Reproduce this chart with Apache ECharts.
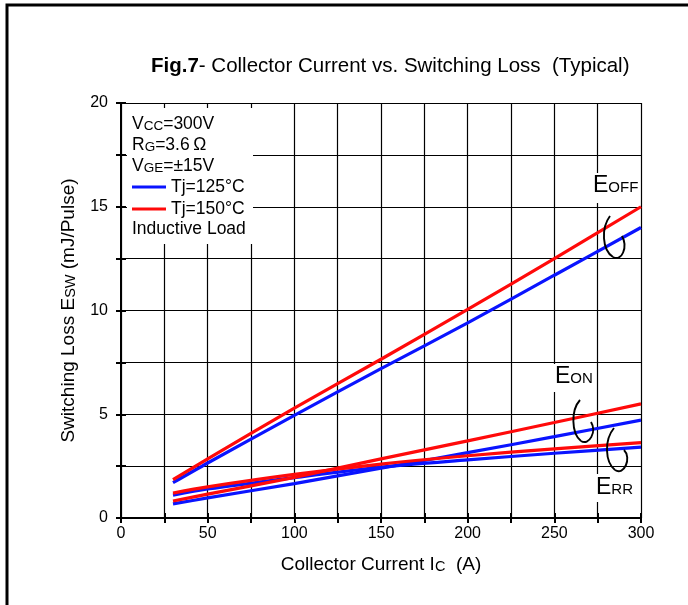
<!DOCTYPE html>
<html>
<head>
<meta charset="utf-8">
<script src="https://cdn.jsdelivr.net/npm/echarts@6/dist/echarts.min.js"></script>
<style>
html,body{margin:0;padding:0;background:#fff;}
#chart{width:688px;height:605px;}
</style>
</head>
<body>
<div id="chart"></div>
<script>
// Collector current (A)
var currents = [30, 50, 100, 150, 200, 250, 300];
// Switching losses (mJ/Pulse)
var eoff125 = [1.7, 2.65, 4.95, 7.2, 9.4, 11.7, 14.0];
var eoff150 = [1.85, 2.85, 5.3, 7.65, 10.05, 12.5, 15.0];
var eon125  = [0.68, 0.97, 1.66, 2.4, 3.15, 3.92, 4.72];
var eon150  = [0.82, 1.15, 1.96, 2.85, 3.72, 4.6, 5.5];
var err125  = [1.1, 1.4, 1.95, 2.45, 2.8, 3.12, 3.42];
var err150  = [1.2, 1.5, 2.1, 2.6, 3.0, 3.33, 3.63];
// Axis ticks
var xTicks = [0, 50, 100, 150, 200, 250, 300];
var yTicks = [0, 5, 10, 15, 20];
var legendNames = ['Tj=125°C', 'Tj=150°C'];

var FONT = '"Liberation Sans", Arial, sans-serif';
var BLUE = '#0a14ff';
var RED = '#ff0a0a';

function pairs(xs, ys) { return xs.map(function (x, i) { return [x, ys[i]]; }); }
function mk(name, color, ys) {
  return {
    type: 'line', name: name, data: pairs(currents, ys),
    showSymbol: false, symbol: 'none', smooth: 0.3,
    lineStyle: { color: color, width: 3.2 }, itemStyle: { color: color },
    z: color === RED ? 3 : 2
  };
}
function curve(x1, y1, c1x, c1y, c2x, c2y, x2, y2) {
  return { type: 'bezierCurve', z: 6,
    shape: { x1: x1, y1: y1, cpx1: c1x, cpy1: c1y, cpx2: c2x, cpy2: c2y, x2: x2, y2: y2 },
    style: { stroke: '#000', lineWidth: 1.9, fill: null } };
}

var chart = echarts.init(document.getElementById('chart'), null, { renderer: 'canvas' });

var axisCommon = {
  axisLine: { show: true, lineStyle: { color: '#000', width: 2 } },
  axisTick: { show: true, inside: true, length: 5, lineStyle: { color: '#000', width: 2 } }
};

var option = {
  backgroundColor: '#fff',
  animation: false,
  textStyle: { fontFamily: FONT },
  title: {
    text: '{b|Fig.7}{n|- Collector Current vs. Switching Loss  (Typical)}',
    left: 146, top: 51,
    textStyle: {
      fontWeight: 'normal',
      rich: {
        b: { fontFamily: FONT, fontWeight: 'bold', fontSize: 20.5, color: '#000' },
        n: { fontFamily: FONT, fontWeight: 'normal', fontSize: 20.5, color: '#000' }
      }
    }
  },
  grid: { left: 121, right: 47, top: 103, bottom: 87, containLabel: false },
  legend: {
    data: legendNames,
    orient: 'vertical', left: 132, top: 178,
    icon: 'rect', itemWidth: 34, itemHeight: 3, itemGap: 4,
    padding: 0,
    textStyle: { fontFamily: FONT, fontSize: 17.5, color: '#000', lineHeight: 17 },
    z: 6
  },
  xAxis: [
    Object.assign({
      type: 'value', min: 0, max: 300, interval: 25, position: 'bottom',
      name: '{a|Collector Current I}{s|C}{a|  (A)}',
      nameLocation: 'middle', nameGap: 37,
      nameTextStyle: { rich: {
        a: { fontFamily: FONT, fontSize: 19, color: '#000' },
        s: { fontFamily: FONT, fontSize: 14.5, color: '#000', padding: [4, 0, 0, 0] }
      } },
      axisLabel: {
        fontFamily: FONT, fontSize: 16, color: '#000', margin: 8,
        formatter: function (v) { return xTicks.indexOf(v) >= 0 ? String(v) : ''; }
      },
      splitLine: { show: true, lineStyle: { color: '#000', width: 1.2 } }
    }, axisCommon),
    Object.assign({
      type: 'value', min: 0, max: 300, interval: 25, position: 'top',
      axisLabel: { show: false }, splitLine: { show: false }
    }, axisCommon)
  ],
  yAxis: [
    Object.assign({
      type: 'value', min: 0, max: 20, interval: 2.5, position: 'left',
      name: '{a|Switching Loss E}{s|SW}{a| (mJ/Pulse)}',
      nameLocation: 'middle', nameGap: 43, nameRotate: 90,
      nameTextStyle: { rich: {
        a: { fontFamily: FONT, fontSize: 19, color: '#000' },
        s: { fontFamily: FONT, fontSize: 14.5, color: '#000', padding: [4, 0, 0, 0] }
      } },
      axisLabel: {
        fontFamily: FONT, fontSize: 16, color: '#000', margin: 13,
        formatter: function (v) { return yTicks.indexOf(v) >= 0 ? String(v) : ''; }
      },
      splitLine: { show: true, lineStyle: { color: '#000', width: 1.2 } }
    }, axisCommon),
    Object.assign({
      type: 'value', min: 0, max: 20, interval: 2.5, position: 'right',
      axisLabel: { show: false }, splitLine: { show: false }
    }, axisCommon)
  ],
  series: [
    mk(legendNames[0], BLUE, eoff125),
    mk(legendNames[0], BLUE, eon125),
    mk(legendNames[0], BLUE, err125),
    mk(legendNames[1], RED, eoff150),
    mk(legendNames[1], RED, eon150),
    mk(legendNames[1], RED, err150)
  ],
  graphic: [
    // outer frame (top and left)
    { type: 'polyline', z: 10, shape: { points: [[7, 605], [7, 5], [688, 5]] },
      style: { stroke: '#000', lineWidth: 3, fill: null } },
    // condition box background
    { type: 'rect', z: 1, shape: { x: 127, y: 108, width: 126, height: 136 }, style: { fill: '#fff' } },
    { type: 'text', z: 6, x: 132, y: 114,
      style: {
        text: '{b|V}{s|CC}{b|=300V}\n{b|R}{s|G}{b|=3.6\u2009Ω}\n{b|V}{s|GE}{b|=±15V}',
        rich: {
          b: { fontFamily: FONT, fontSize: 17.5, fill: '#000', lineHeight: 21 },
          s: { fontFamily: FONT, fontSize: 13.5, fill: '#000', lineHeight: 21, padding: [3, 0, 0, 0] }
        }
      } },
    { type: 'text', z: 6, x: 132, y: 220,
      style: { text: 'Inductive Load', font: '17.5px ' + FONT, fill: '#000' } },
    // curve labels
    { type: 'rect', z: 1, shape: { x: 589, y: 173, width: 50, height: 30 }, style: { fill: '#fff' } },
    { type: 'text', z: 6, x: 593, y: 174,
      style: { text: '{e|E}{s|OFF}', rich: {
        e: { fontFamily: FONT, fontSize: 23, fill: '#000' },
        s: { fontFamily: FONT, fontSize: 15, fill: '#000', padding: [5, 0, 0, 0] } } } },
    { type: 'rect', z: 1, shape: { x: 549, y: 364, width: 46, height: 28 }, style: { fill: '#fff' } },
    { type: 'text', z: 6, x: 555, y: 365,
      style: { text: '{e|E}{s|ON}', rich: {
        e: { fontFamily: FONT, fontSize: 23, fill: '#000' },
        s: { fontFamily: FONT, fontSize: 15, fill: '#000', padding: [5, 0, 0, 0] } } } },
    { type: 'rect', z: 1, shape: { x: 592, y: 474, width: 46, height: 28 }, style: { fill: '#fff' } },
    { type: 'text', z: 6, x: 596, y: 476,
      style: { text: '{e|E}{s|RR}', rich: {
        e: { fontFamily: FONT, fontSize: 23, fill: '#000' },
        s: { fontFamily: FONT, fontSize: 15, fill: '#000', padding: [5, 0, 0, 0] } } } },
    // loop marks
    curve(610, 216, 601, 228, 602, 250, 613, 257),
    curve(613, 257, 622, 262, 628, 247, 622, 236),
    curve(580, 400, 571, 410, 571, 433, 581, 441),
    curve(581, 441, 589, 446, 597, 432, 591, 422),
    curve(614, 428, 604, 440, 605, 462, 615, 470),
    curve(615, 470, 624, 476, 632, 458, 624, 450)
  ]
};
chart.setOption(option);
</script>
</body>
</html>
